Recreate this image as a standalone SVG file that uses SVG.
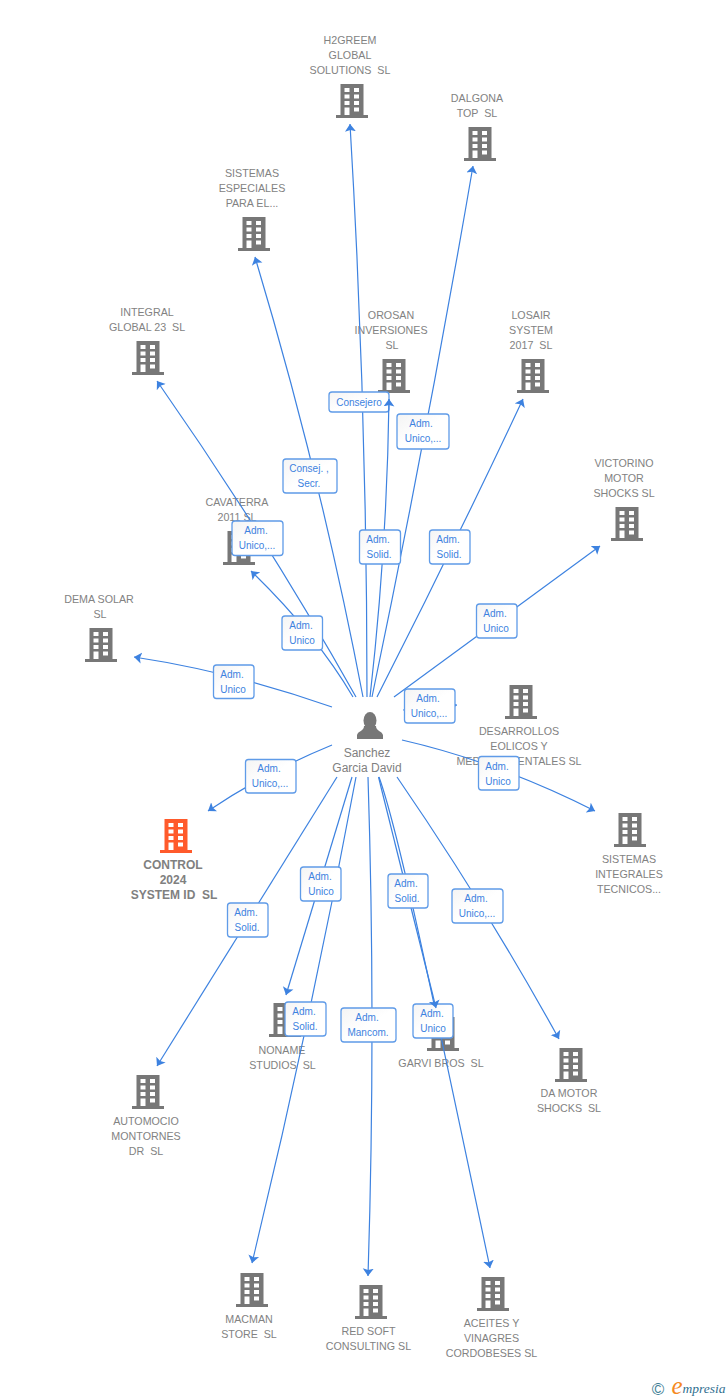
<svg xmlns="http://www.w3.org/2000/svg" width="728" height="1400" viewBox="0 0 728 1400">
<style>
text{font-family:"Liberation Sans",Arial,sans-serif;white-space:pre;text-anchor:middle}
.n{font-size:10.7px;fill:#828282}
.p{font-size:12px;fill:#808080}
.b{font-size:12px;font-weight:bold;fill:#808080}
.e{fill:none;stroke:#3d82e0;stroke-width:1.2;marker-end:url(#a)}
.l rect{fill:url(#g);stroke:#5f9be8;stroke-width:1.3}
.l text{font-size:10px;fill:#3d82e0}
</style>
<defs>
<marker id="a" markerUnits="userSpaceOnUse" markerWidth="9" markerHeight="12" refX="7.5" refY="6" orient="auto"><path d="M0,.5L7.5,6L0,11.500L1.6,6z" fill="#3d82e0"/></marker>
<linearGradient id="g" x1="0" y1="0" x2="1" y2="1"><stop offset="0" stop-color="#f4f4f4"/><stop offset=".5" stop-color="#fff"/></linearGradient>
<g id="bd"><path fill-rule="evenodd" d="M-11.5,-34H11.5V-3H16V0H-16V-3H-11.5ZM-7.5,-30V-26H-2.5V-30ZM2,-30V-26H7V-30ZM-7.5,-23.5V-19.5H-2.5V-23.5ZM2,-23.5V-19.5H7V-23.5ZM-7.5,-17V-13H-2.5V-17ZM2,-17V-13H7V-17ZM-7.5,-10.5V-3H-2.5V-10.5ZM2,-10.5V-6.5H7V-10.5Z"/></g>
</defs>
<rect width="728" height="1400" fill="#fff"/>

<g id="node-h2greem" fill="#777"><use href="#bd" x="352" y="118"/><text class="n" x="350" y="44">H2GREEM</text><text class="n" x="350" y="59">GLOBAL</text><text class="n" x="350" y="74">SOLUTIONS  SL</text></g>
<g id="node-dalgona" fill="#777"><use href="#bd" x="480" y="161"/><text class="n" x="477" y="102">DALGONA</text><text class="n" x="477" y="117">TOP  SL</text></g>
<g id="node-sistemas-especiales" fill="#777"><use href="#bd" x="254" y="251"/><text class="n" x="252" y="177">SISTEMAS</text><text class="n" x="252" y="192">ESPECIALES</text><text class="n" x="252" y="207">PARA EL...</text></g>
<g id="node-integral" fill="#777"><use href="#bd" x="148" y="375"/><text class="n" x="147" y="316">INTEGRAL</text><text class="n" x="147" y="331">GLOBAL 23  SL</text></g>
<g id="node-orosan" fill="#777"><use href="#bd" x="394" y="393"/><text class="n" x="391" y="319">OROSAN</text><text class="n" x="391" y="334">INVERSIONES</text><text class="n" x="392" y="349">SL</text></g>
<g id="node-losair" fill="#777"><use href="#bd" x="533" y="393"/><text class="n" x="531" y="319">LOSAIR</text><text class="n" x="531" y="334">SYSTEM</text><text class="n" x="531" y="349">2017  SL</text></g>
<g id="node-victorino" fill="#777"><use href="#bd" x="627" y="541"/><text class="n" x="624" y="467">VICTORINO</text><text class="n" x="624" y="482">MOTOR</text><text class="n" x="624" y="497">SHOCKS SL</text></g>
<g id="node-cavaterra" fill="#777"><use href="#bd" x="239" y="565"/><text class="n" x="237" y="506">CAVATERRA</text><text class="n" x="237" y="521">2011 SL</text></g>
<g id="node-dema" fill="#777"><use href="#bd" x="101" y="662"/><text class="n" x="99" y="603">DEMA SOLAR</text><text class="n" x="100" y="618">SL</text></g>
<g id="node-desarrollos" fill="#777"><use href="#bd" x="521" y="719"/><text class="n" x="519" y="735">DESARROLLOS</text><text class="n" x="519" y="750">EOLICOS Y</text><text class="n" x="519" y="765">MEDIOAMBIENTALES SL</text></g>
<g id="node-sistemas-integrales" fill="#777"><use href="#bd" x="630" y="847"/><text class="n" x="629" y="863">SISTEMAS</text><text class="n" x="629" y="878">INTEGRALES</text><text class="n" x="629" y="893">TECNICOS...</text></g>
<g id="node-control" fill="#ff5a2b"><use href="#bd" x="176" y="853"/><text class="b" x="173" y="869">CONTROL</text><text class="b" x="173" y="884">2024</text><text class="b" x="174" y="899">SYSTEM ID  SL</text></g>
<g id="node-automocio" fill="#777"><use href="#bd" x="148" y="1109"/><text class="n" x="146" y="1125">AUTOMOCIO</text><text class="n" x="146" y="1140">MONTORNES</text><text class="n" x="146" y="1155">DR  SL</text></g>
<g id="node-noname" fill="#777"><use href="#bd" x="285" y="1037"/><text class="n" x="282" y="1054">NONAME</text><text class="n" x="282.500" y="1069">STUDIOS  SL</text></g>
<g id="node-garvi" fill="#777"><use href="#bd" x="443" y="1051"/><text class="n" x="441" y="1067">GARVI BROS  SL</text></g>
<g id="node-da-motor" fill="#777"><use href="#bd" x="571" y="1082"/><text class="n" x="569" y="1097">DA MOTOR</text><text class="n" x="569" y="1112">SHOCKS  SL</text></g>
<g id="node-macman" fill="#777"><use href="#bd" x="252" y="1307"/><text class="n" x="249" y="1323">MACMAN</text><text class="n" x="249" y="1338">STORE  SL</text></g>
<g id="node-red-soft" fill="#777"><use href="#bd" x="371" y="1319"/><text class="n" x="368.500" y="1335">RED SOFT</text><text class="n" x="368.500" y="1350">CONSULTING SL</text></g>
<g id="node-aceites" fill="#777"><use href="#bd" x="493" y="1311"/><text class="n" x="491.500" y="1327">ACEITES Y</text><text class="n" x="491.500" y="1342">VINAGRES</text><text class="n" x="491.500" y="1357">CORDOBESES SL</text></g>
<g id="node-person" fill="#777"><ellipse cx="370" cy="720.5" rx="6.5" ry="8.5"/><path d="M364,726C364,731 358,731 357,735V739H383V735C382,731 376,731 376,726Z"/><text class="p" x="367" y="757">Sanchez</text><text class="p" x="367" y="772">Garcia David</text></g>

<g id="connectors">
<path class="e" d="M356,697Q267.500,539 157,381"/>
<path class="e" d="M353,697Q316,634 251,571"/>
<path class="e" d="M363,697Q321,477 255,257"/>
<path class="e" d="M367,697Q367,410 350,124"/>
<path class="e" d="M372,697Q427.500,431.500 473,166"/>
<path class="e" d="M377,697Q453,548 523,399"/>
<path class="e" d="M394,697L600,546"/>
<path class="e" d="M403,710L457,705"/>
<path class="e" d="M402,740Q498,762 595,811"/>
<path class="e" d="M332,707Q233,672 134,657"/>
<path class="e" d="M332,745Q266,772 208,811"/>
<path class="e" d="M337,777L157,1066"/>
<path class="e" d="M352,777L286,995"/>
<path class="e" d="M356,777Q311,1020 252,1263"/>
<path class="e" d="M368,777Q376,1026 368,1276"/>
<path class="e" d="M379,777C398,830 425,960 490,1268"/>
<path class="e" d="M397,777Q485,905 559,1039"/>
<g class="l"><rect x="329" y="392" width="60" height="20" rx="3"/><text x="359" y="405.500">Consejero</text></g>
<g class="l"><rect x="413" y="1004" width="40" height="34" rx="3"/><text x="432" y="1017">Adm.</text><text x="433" y="1032">Unico</text></g>
<path class="e" d="M370,697Q387,548 389,399"/>
<path class="e" d="M378.500,777L436,1008"/>
<g class="l"><rect x="232" y="521" width="51" height="34.500" rx="3"/><text x="256" y="534">Adm.</text><text x="257" y="549">Unico,...</text></g>
<g class="l"><rect x="282" y="616" width="40.500" height="34" rx="3"/><text x="301" y="629">Adm.</text><text x="302" y="644">Unico</text></g>
<g class="l"><rect x="283" y="459" width="54" height="34" rx="3"/><text x="309" y="472">Consej. ,</text><text x="309" y="487">Secr.</text></g>
<g class="l"><rect x="359.500" y="530" width="41" height="34" rx="3"/><text x="378" y="543">Adm.</text><text x="379" y="558">Solid.</text></g>
<g class="l"><rect x="397" y="414" width="52" height="35" rx="3"/><text x="421" y="427">Adm.</text><text x="423" y="442">Unico,...</text></g>
<g class="l"><rect x="429.500" y="530" width="40.500" height="34" rx="3"/><text x="448" y="543">Adm.</text><text x="449" y="558">Solid.</text></g>
<g class="l"><rect x="476.500" y="604" width="40.500" height="34" rx="3"/><text x="495" y="617">Adm.</text><text x="496" y="632">Unico</text></g>
<g class="l"><rect x="404.500" y="689" width="50.500" height="34" rx="3"/><text x="428" y="702">Adm.</text><text x="429" y="717">Unico,...</text></g>
<g class="l"><rect x="478.500" y="756.500" width="40.500" height="33.500" rx="3"/><text x="497" y="770">Adm.</text><text x="498" y="785">Unico</text></g>
<g class="l"><rect x="213.500" y="665" width="40.500" height="33.500" rx="3"/><text x="232" y="678">Adm.</text><text x="233" y="693">Unico</text></g>
<g class="l"><rect x="245.500" y="759.500" width="50.500" height="33.500" rx="3"/><text x="269" y="772">Adm.</text><text x="270" y="787">Unico,...</text></g>
<g class="l"><rect x="227.500" y="903" width="40.500" height="34" rx="3"/><text x="246" y="916">Adm.</text><text x="247" y="931">Solid.</text></g>
<g class="l"><rect x="300.500" y="867" width="40.500" height="34" rx="3"/><text x="320" y="880">Adm.</text><text x="321" y="895">Unico</text></g>
<g class="l"><rect x="285" y="1002" width="41" height="34" rx="3"/><text x="304" y="1015">Adm.</text><text x="305" y="1030">Solid.</text></g>
<g class="l"><rect x="341" y="1008" width="55" height="34" rx="3"/><text x="367" y="1021">Adm.</text><text x="368" y="1036">Mancom.</text></g>
<g class="l"><rect x="388" y="874" width="40" height="34" rx="3"/><text x="406" y="887">Adm.</text><text x="407" y="902">Solid.</text></g>
<g class="l"><rect x="452" y="889" width="51" height="34" rx="3"/><text x="476" y="902">Adm.</text><text x="477" y="917">Unico,...</text></g>
</g>

<g id="logo">
<text x="658" y="1395" style="font-size:17px;fill:#3f7f96">©</text>
<text x="677" y="1394" style="font-family:'Liberation Serif',serif;font-style:italic;font-size:25px;fill:#f58a1f">e</text>
<text x="704" y="1393" style="font-family:'Liberation Serif',serif;font-style:italic;font-size:13.5px;fill:#2f6f8f">mpresia</text>
</g>
</svg>
